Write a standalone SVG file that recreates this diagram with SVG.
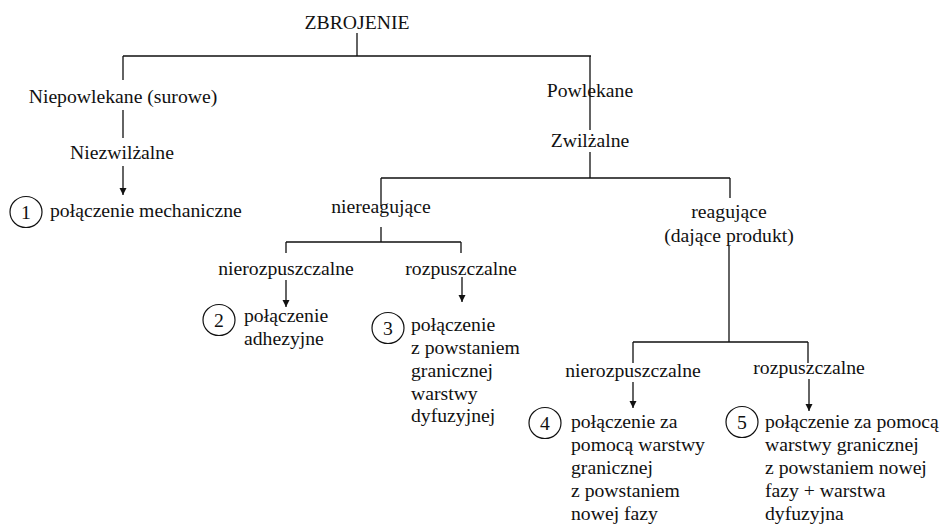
<svg xmlns="http://www.w3.org/2000/svg" width="941" height="524" viewBox="0 0 941 524">
<style>
text{font-family:'Liberation Serif','DejaVu Serif',serif;font-size:19.7px;fill:#111}
.c{text-anchor:middle}
.ln{stroke:#111;stroke-width:1.3;fill:none}
.ci{stroke:#111;stroke-width:1.2;fill:none}
</style>
<defs>
<marker id="ah" viewBox="0 0 10 10" refX="10" refY="5" markerWidth="7" markerHeight="8" markerUnits="userSpaceOnUse" orient="auto">
<path d="M0,0 L10,5 L0,10 Z" fill="#111"/>
</marker>
</defs>
<rect width="941" height="524" fill="#fff"/>
<g id="connectors">
<path class="ln" d="M357,33 V56 M123,56 H591 M123,56 V80 M123,110 V138 M590,56 V130 M590,152 V178 M381,178 H730 M730,178 V198 M381,178 V206 M381,227 V242 M286,242 H461 M286,242 V253 M461,242 V253 M729,246 V342 M633,342 H808 M633,342 V363 M808,342 V363"/>
<path class="ln" marker-end="url(#ah)" d="M123,166 V195"/>
<path class="ln" marker-end="url(#ah)" d="M286,280 V307"/>
<path class="ln" marker-end="url(#ah)" d="M462,277 V302"/>
<path class="ln" marker-end="url(#ah)" d="M633,382 V408"/>
<path class="ln" marker-end="url(#ah)" d="M809,379 V411"/>
</g>
<g id="n-zbrojenie"><text class="c" x="357" y="29">ZBROJENIE</text></g>
<g id="n-niepowlekane"><text class="c" x="123" y="103">Niepowlekane (surowe)</text></g>
<g id="n-niezwilzalne"><text class="c" x="122" y="159">Niezwilżalne</text></g>
<g id="n-1"><ellipse class="ci" cx="26" cy="212" rx="16" ry="15.5"/><text class="c" x="26" y="219">1</text><text x="50" y="217">połączenie mechaniczne</text></g>
<g id="n-powlekane"><text class="c" x="590" y="97">Powlekane</text></g>
<g id="n-zwilzalne"><text class="c" x="590" y="147">Zwilżalne</text></g>
<g id="n-niereagujace"><text class="c" x="381" y="213">niereagujące</text></g>
<g id="n-reagujace"><text class="c" x="729" y="218">reagujące</text><text class="c" x="729" y="242">(dające produkt)</text></g>
<g id="n-nierozp1"><text class="c" x="286" y="275">nierozpuszczalne</text></g>
<g id="n-rozp1"><text class="c" x="461" y="275">rozpuszczalne</text></g>
<g id="n-2"><ellipse class="ci" cx="219" cy="320" rx="16" ry="15.5"/><text class="c" x="219" y="327">2</text><text x="244" y="322">połączenie</text><text x="244" y="345">adhezyjne</text></g>
<g id="n-3"><ellipse class="ci" cx="388" cy="328" rx="16" ry="15.5"/><text class="c" x="388" y="335">3</text><text x="411" y="331">połączenie</text><text x="411" y="354">z powstaniem</text><text x="411" y="377">granicznej</text><text x="411" y="400">warstwy</text><text x="411" y="422">dyfuzyjnej</text></g>
<g id="n-nierozp2"><text class="c" x="633" y="377">nierozpuszczalne</text></g>
<g id="n-rozp2"><text class="c" x="809" y="374">rozpuszczalne</text></g>
<g id="n-4"><ellipse class="ci" cx="545" cy="423" rx="16" ry="15.5"/><text class="c" x="545" y="430">4</text><text x="571" y="428">połączenie za</text><text x="571" y="451">pomocą warstwy</text><text x="571" y="474">granicznej</text><text x="571" y="497">z powstaniem</text><text x="571" y="520">nowej fazy</text></g>
<g id="n-5"><ellipse class="ci" cx="742" cy="422" rx="16" ry="15.5"/><text class="c" x="742" y="429">5</text><text x="765" y="428">połączenie za pomocą</text><text x="765" y="451">warstwy granicznej</text><text x="765" y="474">z powstaniem nowej</text><text x="765" y="497">fazy + warstwa</text><text x="765" y="520">dyfuzyjna</text></g>
</svg>
